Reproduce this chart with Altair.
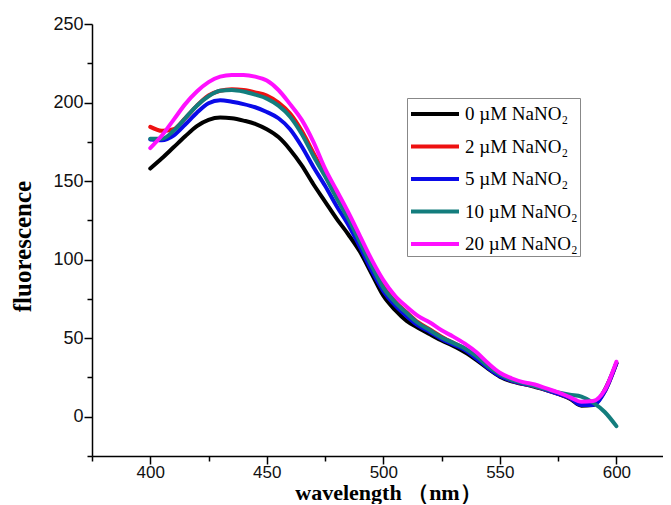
import altair as alt
import pandas as pd

wavelength = list(range(400, 601, 5))

series_names = ["0 µM NaNO₂", "2  µM NaNO₂", "5 µM NaNO₂", "10 µM NaNO₂", "20 µM NaNO₂"]
series_colors = ["#000000", "#ee1111", "#0a0ae8", "#137d7d", "#ff10ff"]

s0 = [158, 164.5, 171.5, 178.5, 185, 189, 190.5, 190, 188.5, 186.5, 183, 178, 170, 160, 148,
      137, 126, 116, 105, 91, 77, 68, 61, 56.5, 52.5, 48.5, 45, 41, 36, 30.5, 25.5, 22.5, 20.8,
      19, 17, 14.5, 11.5, 7, 7.5, 17, 34]
s2 = [184.5, 182, 183, 190, 198, 204.5, 207.5, 208.5, 208, 206.5, 204.5, 200, 193, 182, 168,
      154, 140, 127, 112, 97, 83, 73.5, 66.5, 60, 55.5, 51, 47, 43.5, 38, 31.5, 26.5, 23, 21,
      19.5, 17, 14.5, 12, 8, 8, 16, 34]
s5 = [176.5, 176, 179, 186, 193.5, 199.5, 201.5, 200.5, 199, 197, 194, 190, 183, 172, 159,
      147, 134, 122, 108, 93, 80, 71, 64, 58, 54, 49.5, 46, 42.5, 37, 31, 26, 23, 21,
      19.5, 17, 14.5, 12, 7.5, 7.5, 16, 34]
s10 = [177, 177, 182, 190, 198, 204, 207.5, 208, 207, 205, 202.5, 198, 191, 180, 166,
       153, 139, 126, 111, 96, 82, 73, 66, 59.5, 55, 50.5, 47, 43.5, 38.5, 32, 27, 23.5, 21.5,
       19.5, 17.5, 15.5, 14, 12.8, 9, 3, -6]
s20 = [171, 179, 189, 199, 207, 213, 216.5, 217.5, 217.5, 216.5, 214, 208, 199, 189, 175,
       158, 144, 130, 115, 100, 87, 77, 70, 64, 60, 55, 51, 46.5, 41, 34, 28, 24.5, 22,
       20.5, 18, 15.5, 12.5, 9.5, 10, 17, 35]

x_ticks = list(range(375, 601, 25))
y_ticks = list(range(-25, 251, 25))

rows = []
for name, vals in zip(series_names, [s0, s2, s5, s10, s20]):
    for w, v in zip(wavelength, vals):
        rows.append({"wavelength": w, "fluorescence": v, "series": name})
df = pd.DataFrame(rows)

color_scale = alt.Scale(domain=series_names, range=series_colors)

x_enc = alt.X(
    "wavelength:Q",
    scale=alt.Scale(domain=[375, 620], nice=False, zero=False),
    axis=alt.Axis(
        title="wavelength （nm）",
        values=x_ticks,
        labelExpr="datum.value % 50 === 0 ? datum.label : ''",
        tickSize={"condition": {"test": "datum.value % 50 === 0", "value": 8}, "value": 5},
        grid=False,
        labelFont="Liberation Sans",
        labelFontSize=17,
        labelPadding=0,
        labelColor="#111",
        titleFont="Liberation Serif",
        titleFontWeight="bold",
        titleFontSize=22,
        titleColor="#000",
        titleX=296,
        titleY=43,
        titleBaseline="alphabetic",
        domainColor="#000",
        domainWidth=1.5,
        tickColor="#000",
        tickWidth=1.5,
    ),
)
y_enc = alt.Y(
    "fluorescence:Q",
    scale=alt.Scale(domain=[-25, 250], nice=False, zero=False),
    axis=alt.Axis(
        title="fluorescence",
        values=y_ticks,
        labelExpr="datum.value % 50 === 0 ? datum.label : ''",
        tickSize={"condition": {"test": "datum.value % 50 === 0", "value": 8}, "value": 5},
        grid=False,
        labelFont="Liberation Sans",
        labelFontSize=18,
        labelPadding=1,
        labelColor="#111",
        titleFont="Liberation Serif",
        titleFontWeight="bold",
        titleFontSize=25,
        titleColor="#000",
        titleX=-70,
        titleY=222,
        titleAlign="center",
        titleBaseline="middle",
        titleAngle=270,
        domainColor="#000",
        domainWidth=1.5,
        tickColor="#000",
        tickWidth=1.5,
    ),
)

base = alt.Chart(df).mark_line(strokeWidth=4, interpolate="monotone", strokeCap="round", strokeJoin="round")

layers = []
for i, name in enumerate(series_names):
    layers.append(
        base.transform_filter(alt.datum.series == name).encode(
            x=x_enc,
            y=y_enc,
            color=alt.Color(
                "series:N",
                scale=color_scale,
                legend=alt.Legend(
                    title=None,
                    orient="none",
                    legendX=315,
                    legendY=74,
                    strokeColor="#888",
                    fillColor="#fff",
                    padding=2,
                    symbolType="M-1,0H3",
                    symbolSize=576,
                    symbolStrokeWidth=4,
                    labelFont="Liberation Serif",
                    labelFontSize=19,
                    labelColor="#000",
                    labelOffset=28,
                    rowPadding=8.5,
                    labelLimit=300,
                ),
            ),
        )
    )

chart = alt.layer(*layers).properties(
    width=571,
    height=432,
    padding={"left": 84, "top": 16, "right": 0, "bottom": 48},
    autosize=alt.AutoSizeParams(type="none"),
).configure_view(stroke=None)

chart.save("out.html", embed_options={"renderer": "svg", "actions": False})
